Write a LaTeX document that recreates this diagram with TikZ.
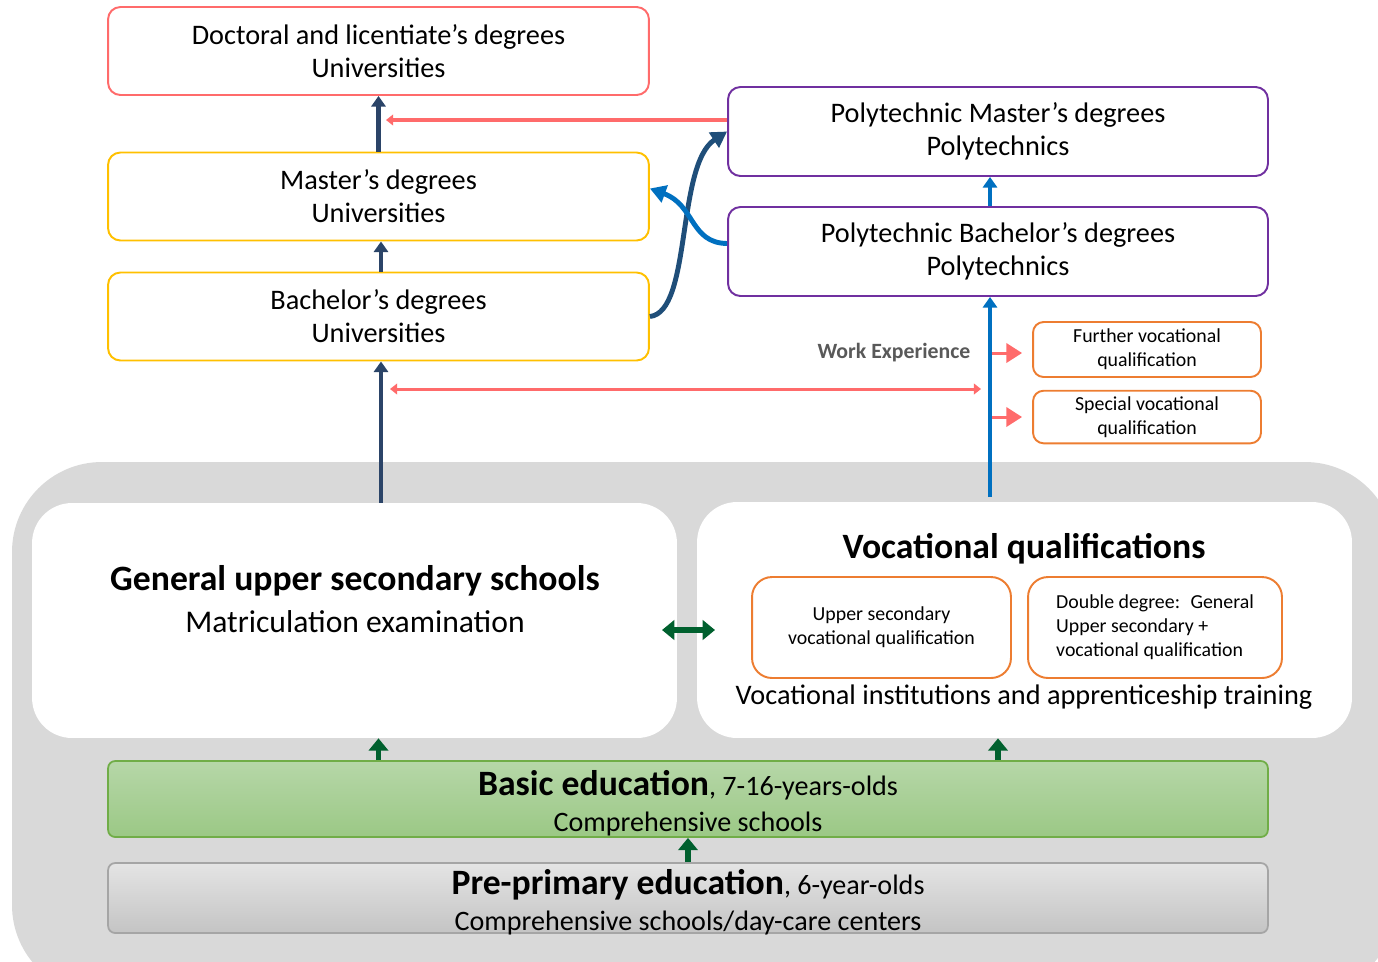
\documentclass[tikz,border=0pt]{standalone}
\usepackage{fontspec}
\setmainfont{Carlito}
\usetikzlibrary{
    arrows.meta,
    positioning,
    calc
}
\definecolor{bggray}{HTML}{D9D9D9}
\definecolor{docred}{HTML}{FF6B6B}
\definecolor{uniyellow}{HTML}{FFC000}
\definecolor{polypurple}{HTML}{7030A0}
\definecolor{vocorange}{HTML}{ED7D31}
\definecolor{pathblue}{HTML}{0070C0}
\definecolor{navy}{HTML}{2B4468}
\definecolor{curvenavy}{HTML}{1F4E79}
\definecolor{stepgreen}{HTML}{00602E}
\definecolor{worktext}{HTML}{595959}
\definecolor{basictop}{RGB}{182,215,168}
\definecolor{basicbottom}{RGB}{155,200,133}
\definecolor{basicline}{RGB}{112,173,71}
\definecolor{pretop}{RGB}{228,228,228}
\definecolor{prebottom}{RGB}{196,196,196}
\definecolor{preline}{RGB}{165,165,165}
\tikzset {
    box/.style = {draw, line width = 1.1pt, rounded corners = 7pt, align = center, fill = white,
        font = \fontsize{16.1}{18.7}\selectfont},
    uni box/.style = {box, draw = uniyellow, minimum width = 10.82cm, minimum height = 1.76cm},
    poly box/.style = {box, draw = polypurple, minimum width = 10.8cm, minimum height = 1.78cm},
    small box/.style = {box, draw = vocorange, rounded corners = 6pt, minimum width = 4.56cm,
        font = \fontsize{11.3}{13.6}\selectfont},
    school box/.style = {fill = white, rounded corners = 0.8cm},
    level box/.style = {draw, line width = 1pt, rounded corners = 4pt, minimum width = 23.2cm},
    level text/.style = {align = center, font = \fontsize{16}{20.5}\selectfont},
    big/.style = {font = \fontsize{20.3}{24}\selectfont\bfseries},
    navy arrow/.style = {draw = navy, line width = 2.8pt, -{Triangle[length = 6pt, width = 8pt]}},
    blue arrow/.style = {draw = pathblue, line width = 2.8pt, -{Triangle[length = 6pt, width = 8pt]}},
    curve arrow/.style = {line width = 2.8pt, -{Triangle[length = 9pt, width = 10pt]}},
    red arrow/.style = {draw = docred, line width = 2.2pt, -{Triangle[length = 4pt, width = 6pt]}},
    side arrow/.style = {draw = docred, line width = 1.7pt, -{Triangle[length = 9pt, width = 11pt]}},
    green arrow/.style = {draw = stepgreen, line width = 3pt, -{Triangle[length = 7pt, width = 11pt]}}
}
\begin{document}
\begin{tikzpicture}[x = 0.02cm, y = -0.02cm]
    \useasboundingbox (0, 0) rectangle (1378, 961);
    \begin{scope}
        \clip (0, 0) rectangle (1378, 961);
        \fill [bggray, rounded corners = 1.8cm] (12, 462) rectangle (1395, 995);
    \end{scope}
    % school levels
    \node [school box, minimum width = 12.9cm, minimum height = 4.7cm] (gen) at (354.5, 620.5) {};
    \node [school box, minimum width = 13.1cm, minimum height = 4.72cm] (voc) at (1024.5, 620) {};
    \node [big] (gentitle) at (355, 581) {General upper secondary schools};
    \node [font = \fontsize{18}{21}\selectfont] (genexam) at (355, 622) {Matriculation examination};
    \node [big] (voctitle) at (1024, 549) {Vocational qualifications};
    \node [small box, minimum width = 5.18cm, minimum height = 2.02cm, rounded corners = 0.4cm]
        (upvoc) at (881.5, 627.5) {Upper secondary\\vocational qualification};
    \node [small box, minimum width = 5.08cm, minimum height = 2.02cm, rounded corners = 0.4cm, align = left]
        (dbl) at (1155, 627.5) {Double degree:~ General\\Upper secondary +\\vocational qualification};
    \node [font = \fontsize{16.1}{19}\selectfont] (vocinst) at (1024, 697)
        {Vocational institutions and apprenticeship training};
    \node [level box, top color = basictop, bottom color = basicbottom, draw = basicline,
        minimum height = 1.52cm] (basic) at (688, 799) {};
    \node [level text] (basictext) at (688, 803)
        {\textbf{\fontsize{20.3}{24}\selectfont Basic education}, 7-16-years-olds\\Comprehensive schools};
    \node [level box, top color = pretop, bottom color = prebottom, draw = preline,
        minimum height = 1.4cm] (pre) at (688, 898) {};
    \node [level text] (pretext) at (688, 902)
        {\textbf{\fontsize{20.3}{24}\selectfont Pre-primary education}, 6-year-olds\\Comprehensive schools/day-care centers};
    % degrees
    \node [uni box, draw = docred] (doc) at (378.5, 51) {Doctoral and licentiate’s degrees\\Universities};
    \node [uni box] (mast) at (378.5, 196.5) {Master’s degrees\\Universities};
    \node [uni box] (bach) at (378.5, 316.5) {Bachelor’s degrees\\Universities};
    \node [poly box] (pmast) at (998, 131.5) {Polytechnic Master’s degrees\\Polytechnics};
    \node [poly box] (pbach) at (998, 251.5) {Polytechnic Bachelor’s degrees\\Polytechnics};
    \node [small box, minimum height = 1.1cm] (further) at (1147, 349.5) {Further vocational\\qualification};
    \node [small box, minimum height = 1.04cm] (special) at (1147, 417) {Special vocational\\qualification};
    \node [font = \fontsize{12.4}{14}\selectfont\bfseries, text = worktext] (work) at (894, 353) {Work Experience};
    \coordinate (wstart) at (990, 497);
    \coordinate (gl) at (662, 630);
    \coordinate (gr) at (715, 630);
    \coordinate (wl) at (390, 389);
    % connectors
    \draw [navy arrow] (mast.north) -- (doc.south);
    \draw [navy arrow] ([xshift = 0.05cm]bach.north) -- ([xshift = 0.05cm]mast.south);
    \draw [navy arrow] ([xshift = 0.05cm]bach.south |- gen.north) -- ([xshift = 0.05cm]bach.south);
    \draw [blue arrow] (wstart) -- (wstart |- pbach.south);
    \draw [blue arrow] (wstart |- pbach.north) -- (wstart |- pmast.south);
    \draw [red arrow] ([yshift = 0.23cm]pmast.west) -- ([yshift = 0.23cm, xshift = 0.15cm]pmast.west -| doc.south);
    \draw [red arrow, {Triangle[length = 4pt, width = 6pt]}-{Triangle[length = 4pt, width = 6pt]}, line width = 1.7pt]
        ([xshift = -0.18cm]wl -| wstart) -- (wl);
    \draw [side arrow, shorten > = 0.2cm] ($(wstart |- work)+(2, 0)$) -- (further.west |- work);
    \draw [side arrow, shorten > = 0.2cm] ($(wstart |- special)+(2, 0)$) -- (special.west);
    \draw [curve arrow, curvenavy] (bach.east) .. controls (692, 312) and (676, 165) .. (pmast.west);
    \draw [curve arrow, pathblue] ([yshift = 0.16cm]pbach.west) .. controls (690, 243) and (695, 205)
        .. ([yshift = 0.16cm]mast.east);
    \draw [green arrow, {Triangle[length = 7pt, width = 11pt]}-{Triangle[length = 7pt, width = 11pt]}] (gl) -- (gr);
    \draw [green arrow] (basic.north -| doc.south) -- (gen.south -| doc.south);
    \draw [green arrow] (basic.north -| pmast.south) -- (voc.south -| pmast.south);
    \draw [green arrow] (pre.north) -- (basic.south);
\end{tikzpicture}
\end{document}
